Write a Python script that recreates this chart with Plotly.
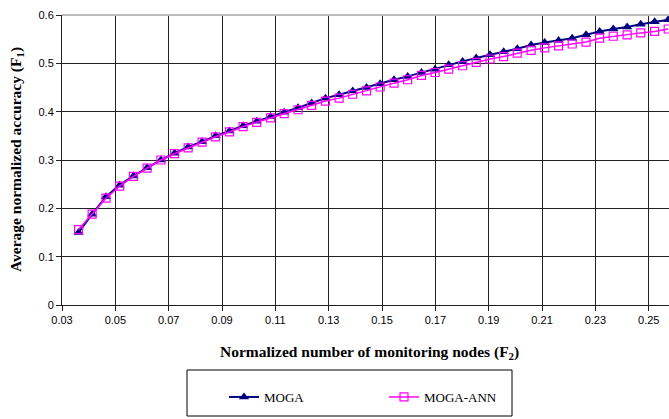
import plotly.graph_objects as go

# Normalized number of monitoring nodes (F2)
x_nodes = [0.0362, 0.0413, 0.0465, 0.0516, 0.0568, 0.0619, 0.0671, 0.0722, 0.0773, 0.0825,
           0.0876, 0.0928, 0.0979, 0.1030, 0.1082, 0.1133, 0.1185, 0.1236, 0.1288, 0.1339,
           0.1390, 0.1442, 0.1493, 0.1545, 0.1596, 0.1648, 0.1699, 0.1750, 0.1802, 0.1853,
           0.1905, 0.1956, 0.2007, 0.2059, 0.2110, 0.2162, 0.2213, 0.2265, 0.2316, 0.2367,
           0.2419, 0.2470, 0.2522, 0.2573]

moga = [0.150, 0.188, 0.224, 0.248, 0.267, 0.284, 0.300, 0.314, 0.327, 0.338,
        0.350, 0.360, 0.371, 0.380, 0.390, 0.399, 0.408, 0.418, 0.428, 0.435,
        0.443, 0.450, 0.458, 0.466, 0.473, 0.481, 0.488, 0.497, 0.504, 0.511,
        0.518, 0.524, 0.530, 0.538, 0.543, 0.547, 0.552, 0.559, 0.566, 0.571,
        0.575, 0.581, 0.586, 0.590]

moga_ann = [0.156, 0.188, 0.221, 0.246, 0.266, 0.283, 0.300, 0.313, 0.325, 0.337,
            0.348, 0.358, 0.369, 0.378, 0.387, 0.396, 0.404, 0.413, 0.422, 0.428,
            0.436, 0.443, 0.451, 0.459, 0.466, 0.475, 0.481, 0.488, 0.495, 0.502,
            0.509, 0.514, 0.521, 0.527, 0.532, 0.536, 0.540, 0.544, 0.552, 0.556,
            0.559, 0.563, 0.566, 0.571]

x_ticks = [0.03, 0.05, 0.07, 0.09, 0.11, 0.13, 0.15, 0.17, 0.19, 0.21, 0.23, 0.25]
x_tick_labels = ["0.03", "0.05", "0.07", "0.09", "0.11", "0.13", "0.15", "0.17", "0.19", "0.21", "0.23", "0.25"]
y_ticks = [0, 0.1, 0.2, 0.3, 0.4, 0.5, 0.6]
y_tick_labels = ["0", "0.1", "0.2", "0.3", "0.4", "0.5", "0.6"]

W, H = 669, 419
L, R, T, B = 62, 0, 15, 114
PW, PH = W - L - R, H - T - B


def px_x(p):
    return (p - L) / PW


def px_y(p):
    return (H - B - p) / PH


fig = go.Figure()
fig.add_trace(go.Scatter(
    x=x_nodes, y=moga, name="MOGA", mode="lines+markers",
    line=dict(color="#000080", width=2),
    marker=dict(symbol="triangle-up", size=9, color="#000080"),
))
fig.add_trace(go.Scatter(
    x=x_nodes, y=moga_ann, name="MOGA-ANN", mode="lines+markers",
    line=dict(color="#FF00FF", width=1.5),
    marker=dict(symbol="square-open", size=8, color="#FF00FF", line=dict(width=1.2)),
))

axis_font = dict(family="Liberation Sans, Arial", size=11, color="#000000")
fig.update_xaxes(
    range=[0.03, 0.03 + (W - L - R) / 2667.0], tickvals=x_ticks, ticktext=x_tick_labels,
    showgrid=True, gridcolor="#222222", gridwidth=1,
    showline=True, linecolor="#222222", linewidth=1,
    ticks="outside", ticklen=5, tickcolor="#222222",
    tickfont=axis_font, zeroline=False, automargin=False,
)
fig.update_yaxes(
    range=[0, 0.6], tickvals=y_ticks, ticktext=y_tick_labels,
    showgrid=True, gridcolor="#222222", gridwidth=1,
    showline=True, linecolor="#222222", linewidth=1,
    ticks="outside", ticklen=5, tickcolor="#222222",
    tickfont=axis_font, zeroline=False, automargin=False,
)

title_font = dict(family="Liberation Serif, Times New Roman", size=15.5, color="#000000")
fig.add_annotation(
    text="<b>Normalized number of monitoring nodes (F<sub>2</sub>)</b>",
    xref="paper", yref="paper", x=px_x(369), y=px_y(352),
    showarrow=False, font=title_font, xanchor="center", yanchor="middle",
)
fig.add_annotation(
    text="<b>Average normalized accuracy (F<sub>1</sub>)</b>",
    xref="paper", yref="paper", x=px_x(16), y=px_y(160),
    showarrow=False, font=title_font, textangle=-90, xanchor="center", yanchor="middle",
)

# top border of plot area (light gray)
fig.add_shape(type="line", xref="paper", yref="paper", x0=0, x1=1, y0=1, y1=1,
              line=dict(color="#bbbbbb", width=2), layer="above")
# legend box
fig.add_shape(type="rect", xref="paper", yref="paper",
              x0=px_x(187), x1=px_x(512), y0=px_y(370), y1=px_y(416),
              line=dict(color="#000000", width=1), fillcolor="rgba(0,0,0,0)")

fig.update_layout(
    width=W, height=H,
    margin=dict(l=L, r=R, t=T, b=B, pad=0, autoexpand=False),
    paper_bgcolor="white", plot_bgcolor="white",
    showlegend=True,
    legend=dict(
        orientation="h", x=px_x(224), y=px_y(397), xanchor="left", yanchor="middle",
        xref="paper", yref="paper",
        font=dict(family="Liberation Serif, Times New Roman", size=13, color="#000000"),
        entrywidth=115, entrywidthmode="pixels",
        bgcolor="rgba(0,0,0,0)", borderwidth=0,
    ),
)

fig.write_html(
    "out.html",
    config={"displayModeBar": False},
    post_script="document.body.style.margin='0';document.body.style.overflow='hidden';",
)
